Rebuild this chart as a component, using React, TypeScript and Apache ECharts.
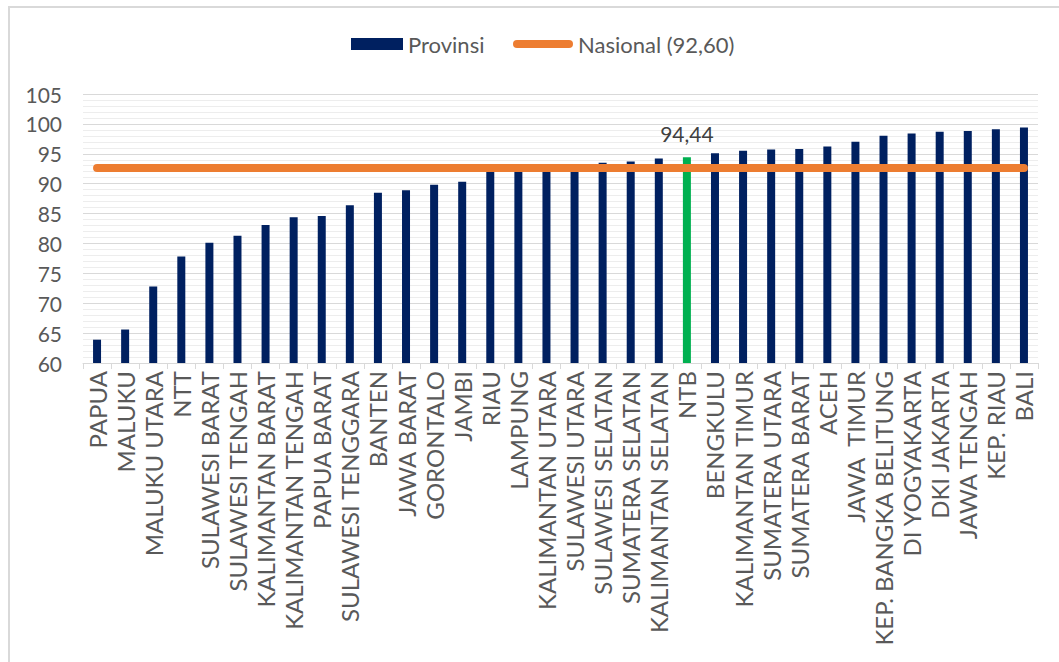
import React, { useEffect, useRef } from "react";
import * as echarts from "echarts";

const provinces: string[] = [
  "PAPUA", "MALUKU", "MALUKU UTARA", "NTT", "SULAWESI BARAT", "SULAWESI TENGAH",
  "KALIMANTAN BARAT", "KALIMANTAN TENGAH", "PAPUA BARAT", "SULAWESI TENGGARA",
  "BANTEN", "JAWA BARAT", "GORONTALO", "JAMBI", "RIAU", "LAMPUNG",
  "KALIMANTAN UTARA", "SULAWESI UTARA", "SULAWESI SELATAN", "SUMATERA SELATAN",
  "KALIMANTAN SELATAN", "NTB", "BENGKULU", "KALIMANTAN TIMUR", "SUMATERA UTARA",
  "SUMATERA BARAT", "ACEH", "JAWA  TIMUR", "KEP. BANGKA BELITUNG", "DI YOGYAKARTA",
  "DKI JAKARTA", "JAWA TENGAH", "KEP. RIAU", "BALI",
];

const provinceValues: number[] = [
  63.9, 65.6, 72.8, 77.8, 80.1, 81.3, 83.1, 84.4, 84.6, 86.4,
  88.5, 88.9, 89.8, 90.3, 92.1, 92.3, 92.5, 92.7, 93.5, 93.7,
  94.2, 94.44, 95.1, 95.5, 95.7, 95.8, 96.2, 97.0, 98.0, 98.4,
  98.7, 98.8, 99.1, 99.4,
];

const nationalValue = 92.6;
const highlightedProvince = "NTB";

const FONT = "Lato";
const TEXT_COLOR = "#595959";
const fmt = (v: number) => v.toFixed(2).replace(".", ",");

export default function App() {
  const ref = useRef<HTMLDivElement>(null);

  useEffect(() => {
    if (!ref.current) return;
    const chart = echarts.init(ref.current, undefined, { renderer: "svg" });

    const barData = provinces.map((name, i) =>
      name === highlightedProvince
        ? {
            value: provinceValues[i],
            itemStyle: { color: "#00B050" },
            label: {
              show: true,
              position: "top",
              distance: 13,
              formatter: (p: any) => fmt(p.value),
              fontFamily: FONT,
              fontSize: 21,
              color: "#404040",
            },
          }
        : provinceValues[i]
    );

    const nationalName = `Nasional (${fmt(nationalValue)})`;

    chart.setOption({
      animation: false,
      backgroundColor: "#ffffff",
      textStyle: { fontFamily: FONT },
      legend: [
        {
          data: ["Provinsi"],
          left: 351,
          top: 33,
          padding: 0,
          itemWidth: 52,
          itemHeight: 12,
          icon: "rect",
          itemGap: 0,
          textStyle: { fontFamily: FONT, fontSize: 22, color: TEXT_COLOR },
        },
        {
          data: [nationalName],
          left: 513,
          top: 33,
          padding: 0,
          itemWidth: 60,
          itemHeight: 8,
          icon: "path://M4 0H56A4 4 0 0 1 56 8H4A4 4 0 0 1 4 0Z",
          itemStyle: { color: "#ED7D31" },
          textStyle: { fontFamily: FONT, fontSize: 22, color: TEXT_COLOR },
        },
      ],
      grid: { left: 83, right: 21, top: 94, bottom: 299 },
      xAxis: {
        type: "category",
        data: provinces,
        boundaryGap: true,
        axisLine: { show: true, lineStyle: { color: "#d9d9d9", width: 1 } },
        axisTick: { show: true, length: 6, lineStyle: { color: "#d9d9d9" } },
        axisLabel: {
          interval: 0,
          rotate: 90,
          margin: 8,
          fontFamily: FONT,
          fontSize: 24,
          color: TEXT_COLOR,
        },
      },
      yAxis: {
        type: "value",
        min: 60,
        max: 105,
        interval: 5,
        axisLine: { show: false },
        axisTick: { show: false },
        axisLabel: { margin: 21, fontFamily: FONT, fontSize: 21, color: TEXT_COLOR },
        splitLine: { show: true, lineStyle: { color: "#d9d9d9", width: 1 } },
        minorTick: { show: false, splitNumber: 5 },
        minorSplitLine: { show: true, lineStyle: { color: "#ededed", width: 1 } },
      },
      series: [
        {
          name: "Provinsi",
          type: "bar",
          data: barData,
          barWidth: 8,
          itemStyle: { color: "#002060" },
        },
        {
          name: nationalName,
          type: "line",
          data: provinces.map(() => nationalValue),
          symbol: "none",
          showSymbol: false,
          lineStyle: { color: "#ED7D31", width: 8, cap: "round" },
          itemStyle: { color: "#ED7D31" },
          z: 3,
        },
      ],
      graphic: [
        {
          type: "line",
          shape: { x1: 8, y1: 7, x2: 1059, y2: 7 },
          style: { stroke: "#d9d9d9", lineWidth: 2 },
          silent: true,
        },
        {
          type: "line",
          shape: { x1: 9, y1: 6, x2: 9, y2: 662 },
          style: { stroke: "#d9d9d9", lineWidth: 2 },
          silent: true,
        },
      ],
    });

    return () => chart.dispose();
  }, []);

  return (
    <div
      ref={ref}
      style={{ position: "fixed", left: 0, top: 0, width: 1059, height: 662 }}
    />
  );
}
